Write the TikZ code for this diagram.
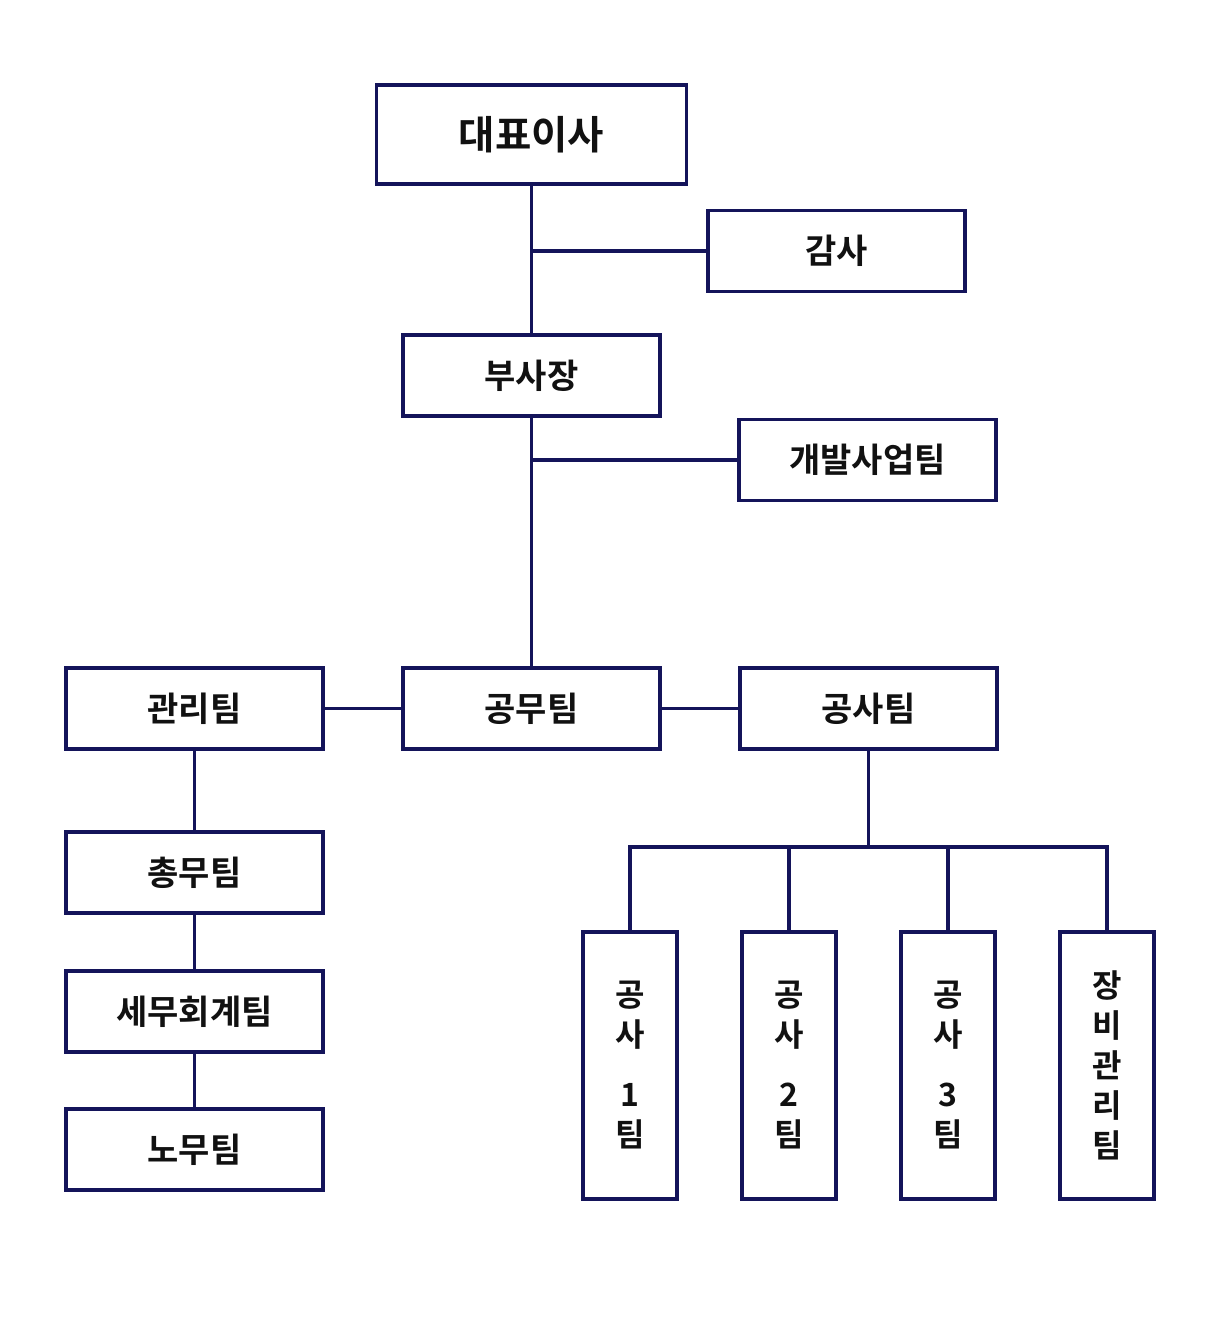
\documentclass[tikz,border=0pt]{standalone}
\usepackage{fontspec}
\newfontfamily\kr{Noto Sans CJK KR}[BoldFont={* Bold}]
\definecolor{navy}{HTML}{14145A}
\definecolor{ink}{HTML}{111111}
\begin{document}
\begin{tikzpicture}[x=1pt,y=-1pt,
  box/.style={draw=navy,line width=3.2pt,fill=white,inner sep=0pt,text=ink,font=\kr\bfseries\fontsize{34}{38}\selectfont},
  wbox/.style={box,minimum width=257pt,minimum height=81pt},
  vbox/.style={box,minimum width=94pt,minimum height=267pt,align=center,font=\kr\bfseries\fontsize{32}{40}\selectfont},
  conn/.style={draw=navy,line width=3.2pt}]
\useasboundingbox (0,0) rectangle (1220,1340);
\fill[white] (0,0) rectangle (1220,1340);
\node[box,minimum width=310pt,minimum height=99pt,font=\kr\bfseries\fontsize{39.5}{44}\selectfont] (ceo) at (531.5,134.5) {대표이사};
\node[wbox] (audit) at (836.5,251) {감사};
\node[wbox] (vp) at (531.5,375.5) {부사장};
\node[wbox] (dev) at (867.5,460) {개발사업팀};
\node[wbox] (mgmt) at (194.5,708.5) {관리팀};
\node[wbox] (gm) at (531.5,708.5) {공무팀};
\node[wbox] (cons) at (868.5,708.5) {공사팀};
\node[wbox] (gen) at (194.5,872.5) {총무팀};
\node[wbox] (tax) at (194.5,1011.5) {세무회계팀};
\node[wbox] (labor) at (194.5,1149.5) {노무팀};
\node[vbox] (t1) at (630,1065.5) {공\\사\\[20pt]1\\팀};
\node[vbox] (t2) at (789,1065.5) {공\\사\\[20pt]2\\팀};
\node[vbox] (t3) at (948,1065.5) {공\\사\\[20pt]3\\팀};
\node[vbox] (t4) at (1107,1065.5) {장\\비\\관\\리\\팀};
\coordinate (j1) at (audit.west -| ceo.south);
\coordinate (j2) at (dev.west -| vp.south);
\coordinate (j3) at (868.5,847);
\coordinate (b1) at (t1.north |- j3);
\coordinate (b2) at (t2.north |- j3);
\coordinate (b3) at (t3.north |- j3);
\coordinate (b4) at (t4.north |- j3);
\draw[conn] (ceo.south) -- (vp.north);
\draw[conn] (j1) -- (audit.west);
\draw[conn] (vp.south) -- (gm.north);
\draw[conn] (j2) -- (dev.west);
\draw[conn] (mgmt.east) -- (gm.west);
\draw[conn] (gm.east) -- (cons.west);
\draw[conn] (mgmt.south) -- (gen.north);
\draw[conn] (gen.south) -- (tax.north);
\draw[conn] (tax.south) -- (labor.north);
\draw[conn] (cons.south) -- (j3);
\draw[conn,line cap=rect] (b1) -- (b4);
\draw[conn] (b1) -- (t1.north);
\draw[conn] (b2) -- (t2.north);
\draw[conn] (b3) -- (t3.north);
\draw[conn] (b4) -- (t4.north);
\end{tikzpicture}
\end{document}
